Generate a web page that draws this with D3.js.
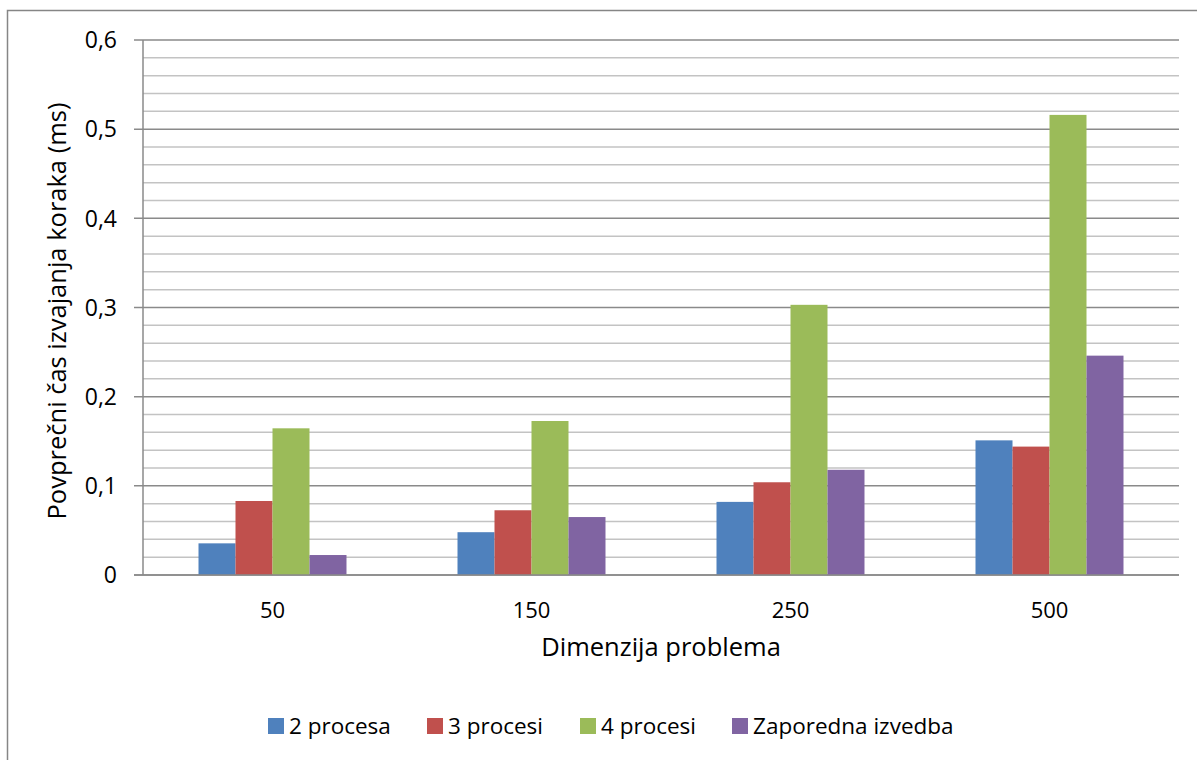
<!DOCTYPE html>
<html>
<head>
<meta charset="utf-8">
<script src="https://cdn.jsdelivr.net/npm/d3@7"></script>
<style>
  body { margin: 0; background: #fff; }
  svg { display: block; font-family: "Open Sans", "Noto Sans", sans-serif; }
</style>
</head>
<body>
<div id="chart"></div>
<script>
// data
const categories = ['50', '150', '250', '500'];
const seriesNames = ['2 procesa', '3 procesi', '4 procesi', 'Zaporedna izvedba'];
const proc2 = [0.0355, 0.048, 0.082, 0.151];
const proc3 = [0.083, 0.0726, 0.104, 0.144];
const proc4 = [0.1645, 0.1727, 0.303, 0.516];
const sequential = [0.0224, 0.065, 0.118, 0.246];
const yTicks = [0, 0.1, 0.2, 0.3, 0.4, 0.5, 0.6];
const colors = ['#4F81BD', '#C0504D', '#9BBB59', '#8064A2'];

const seriesValues = [proc2, proc3, proc4, sequential];

const svgWidth = 1197, svgHeight = 760;
const margin = { top: 40, left: 143, right: 18, bottom: 185 };
const width = svgWidth - margin.left - margin.right;
const height = svgHeight - margin.top - margin.bottom;

const svg = d3.select('#chart').append('svg')
  .attr('width', svgWidth)
  .attr('height', svgHeight);

// outer frame
svg.append('rect')
  .attr('x', 7.5).attr('y', 10.5)
  .attr('width', svgWidth + 20).attr('height', svgHeight + 20)
  .attr('fill', 'none')
  .attr('stroke', '#868686')
  .attr('stroke-width', 1.5);

const chart = svg.append('g')
  .attr('transform', `translate(${margin.left}, ${margin.top})`);

const x0 = d3.scaleBand().domain(categories).range([0, width]).padding(0);
const x1 = d3.scaleBand().domain(seriesNames)
  .range([x0.bandwidth() * 0.2143, x0.bandwidth() * 0.7857]);
const y = d3.scaleLinear().domain([0, 0.6]).range([height, 0]);

// minor grid (every 0.02)
const minorTicks = d3.range(0, 0.6001, 0.02).filter(v => Math.abs(Math.round(v * 10) - v * 10) > 0.01);
chart.append('g').selectAll('line')
  .data(minorTicks)
  .enter().append('line')
  .attr('x1', 0).attr('x2', width)
  .attr('y1', d => y(d)).attr('y2', d => y(d))
  .attr('stroke', '#C3C3C3')
  .attr('stroke-width', 1.5);

// major grid
chart.append('g').selectAll('line')
  .data(yTicks)
  .enter().append('line')
  .attr('x1', -9).attr('x2', width)
  .attr('y1', d => y(d)).attr('y2', d => y(d))
  .attr('stroke', '#8A8A8A')
  .attr('stroke-width', 1.5);

// y axis line
chart.append('line')
  .attr('x1', 0).attr('x2', 0)
  .attr('y1', 0).attr('y2', height)
  .attr('stroke', '#8A8A8A')
  .attr('stroke-width', 1.5);

// bars
seriesNames.forEach((name, si) => {
  chart.append('g').selectAll('rect')
    .data(seriesValues[si])
    .enter().append('rect')
    .attr('x', (d, i) => x0(categories[i]) + x1(name))
    .attr('y', d => y(d))
    .attr('width', x1.bandwidth())
    .attr('height', d => height - y(d))
    .attr('fill', colors[si]);
});

// zero line on top
chart.append('line')
  .attr('x1', -9).attr('x2', width)
  .attr('y1', height).attr('y2', height)
  .attr('stroke', '#8A8A8A')
  .attr('stroke-width', 1.5);

// y tick labels
chart.append('g').selectAll('text')
  .data(yTicks)
  .enter().append('text')
  .attr('x', -26)
  .attr('y', d => y(d))
  .attr('dy', '0.36em')
  .attr('text-anchor', 'end')
  .attr('font-size', '23px')
  .attr('fill', '#000')
  .text(d => d === 0 ? '0' : d3.format('.1f')(d).replace('.', ','));

// x labels
chart.append('g').selectAll('text')
  .data(categories)
  .enter().append('text')
  .attr('x', d => x0(d) + x0.bandwidth() / 2)
  .attr('y', 618 - margin.top)
  .attr('text-anchor', 'middle')
  .attr('font-size', '22px')
  .attr('fill', '#000')
  .text(d => d);

// axis titles
svg.append('text')
  .attr('x', 661).attr('y', 656)
  .attr('text-anchor', 'middle')
  .attr('font-size', '25.5px')
  .text('Dimenzija problema');

svg.append('text')
  .attr('transform', `translate(66, 311) rotate(-90)`)
  .attr('text-anchor', 'middle')
  .attr('font-size', '25.5px')
  .text('Povprečni čas izvajanja koraka (ms)');

// legend
const legendX = [268, 427, 580, 732];
const legend = svg.append('g');
seriesNames.forEach((name, i) => {
  legend.append('rect')
    .attr('x', legendX[i]).attr('y', 718)
    .attr('width', 16).attr('height', 16)
    .attr('fill', colors[i]);
  legend.append('text')
    .attr('x', legendX[i] + 21).attr('y', 734)
    .attr('font-size', '22.5px')
    .text(name);
});
</script>
</body>
</html>
